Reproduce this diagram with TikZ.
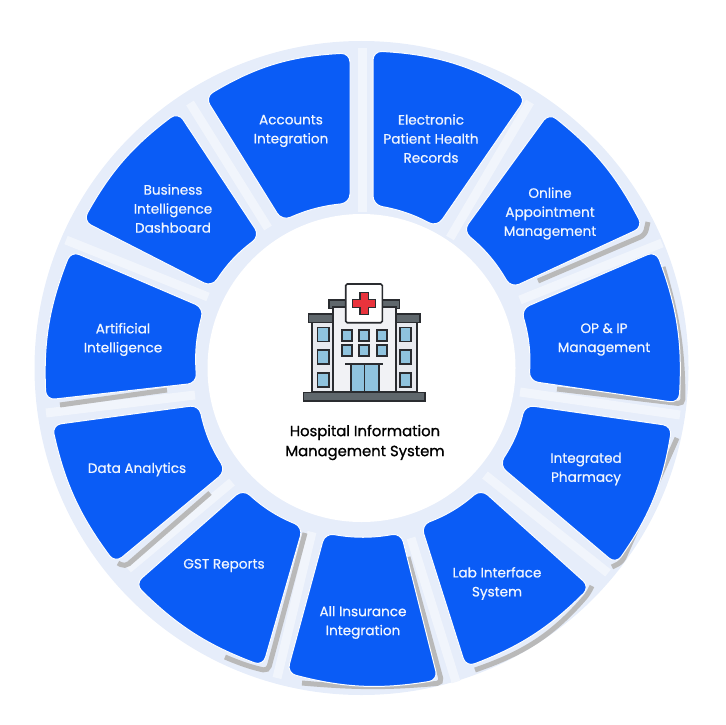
\documentclass[tikz,border=0pt]{standalone}
\usepackage{fontspec}
\setmainfont{Poppins}
\newfontfamily\labelfont{Poppins}[FakeBold=0.6]
\newfontfamily\titlefont{Poppins}[FakeBold=1]
\usepackage{tikz}
\usetikzlibrary{positioning}
\definecolor{ringblue}{HTML}{E6EDFA}
\definecolor{gapwhite}{HTML}{F1F5FC}
\definecolor{tileblue}{HTML}{0A5CF6}
\definecolor{shadowgrey}{HTML}{B9B9B9}
\definecolor{iconline}{HTML}{2A2C30}
\definecolor{iconroof}{HTML}{5F676C}
\definecolor{iconwall}{HTML}{E8EAEF}
\definecolor{iconglass}{HTML}{8FC3DE}
\definecolor{iconred}{HTML}{E8333C}

\begin{document}
\begin{tikzpicture}[x=1pt, y=-1pt]
      \tikzstyle{ring} = [fill=ringblue, draw=none]
      \tikzstyle{gap} = [gapwhite, line width=9pt]
      \tikzstyle{shade} = [shadowgrey, line width=5pt, rounded corners=5pt]
      \tikzstyle{tile} = [fill=tileblue, draw=white!90!ringblue, line width=1pt, rounded corners=9pt]
      \tikzstyle{label} = [text=white!94!tileblue, align=center, font=\labelfont\fontsize{13.6}{19}\selectfont]
      \tikzstyle{title} = [text=black, align=center, font=\titlefont\fontsize{14.8}{20}\selectfont]
      \tikzstyle{wall} = [fill=iconwall, draw=iconline, line width=1.6pt]
      \tikzstyle{roof} = [fill=iconroof, draw=iconline, line width=1.3pt]
      \tikzstyle{window} = [fill=iconglass, draw=iconline, line width=1.6pt]

      \useasboundingbox (0,0) rectangle (725,725);

      % ring
      \fill [ring] (361.5,368) circle (327);
      \draw [gap] (362,212) -- (362,48);
      \draw [gap] (450,238) -- (530,102);
      \draw [gap] (520,300) -- (662,243);
      \draw [gap] (520,392) -- (680,415);
      \draw [gap] (485,475) -- (608,573);
      \draw [gap] (411,538) -- (456,682);
      \draw [gap] (312,532) -- (277,678);
      \draw [gap] (232,482) -- (128,569);
      \draw [gap] (195,395) -- (46,413);
      \draw [gap] (208,297) -- (66,240);
      \draw [gap] (268,228) -- (190,103);
      \fill [white] (361.5,368) circle (154);

      % grey edges under the tiles
      \draw [shade] (538,281) -- (645,235) -- (648,222);
      \draw [shade] (557,389) -- (683,404) to[bend right=8] (663,267);
      \draw [shade] (677,438) -- (622,562) -- (612,567);
      \draw [shade] (592,586) -- (588,594) to[bend left=15] (475,670);
      \draw [shade] (408,557) -- (442,683) to[bend left=5] (302,683);
      \draw [shade] (305,533) -- (268,671) to[bend left=5] (225,657);
      \draw [shade] (210,493) -- (125,567) -- (118,563);
      \draw [shade] (167,390) -- (60,405);

      % tiles
      \draw [tile] (205,97) to[bend left=14] (350,53) -- (350,203) to[bend right=9] (282,221) -- cycle;
      \draw [tile] (373,51) to[bend left=14] (526,98) -- (437,227) to[bend right=9] (373,205) -- cycle;
      \draw [tile] (549,113) to[bend left=12] (643,227) -- (511,288) to[bend right=10] (463,231) -- cycle;
      \draw [tile] (656,251) to[bend left=12] (679,403) -- (529,381) to[bend right=10] (521,309) -- cycle;
      \draw [tile] (672,426) to[bend left=13] (616,564) -- (499,465) to[bend right=10] (525,405) -- cycle;
      \draw [tile] (590,587) to[bend left=12] (466,667) -- (421,525) to[bend right=10] (481,489) -- cycle;
      \draw [tile] (438,680) to[bend left=12] (287,673) -- (325,533) to[bend right=10] (401,533) -- cycle;
      \draw [tile] (263,666) to[bend left=12] (135,584) -- (243,489) to[bend right=10] (303,527) -- cycle;
      \draw [tile] (115,563) to[bend left=12] (52,425) -- (199,405) to[bend right=10] (226,471) -- cycle;
      \draw [tile] (46,400) to[bend left=12] (71,251) -- (204,308) to[bend right=10] (197,383) -- cycle;
      \draw [tile] (83,221) to[bend left=12] (178,112) -- (260,236) to[bend right=10] (212,287) -- cycle;

      % labels
      \node (accounts) [label] at (291,131) {Accounts\\Integration};
      \node (records) [label] at (431,138.5) {Electronic\\Patient Health\\Records};
      \node (appointment) [label] at (550,213.5) {Online\\Appointment\\Management};
      \node (opip) [label] at (604,339.5) {OP \& IP\\Management};
      \node (pharmacy) [label] at (586,469) {Integrated\\Pharmacy};
      \node (lab) [label] at (497,583.5) {Lab Interface\\System};
      \node (insurance) [label] at (363,622.5) {All Insurance\\Integration};
      \node (gst) [label] at (224,565.5) {GST Reports};
      \node (analytics) [label] at (137,469.5) {Data Analytics};
      \node (ai) [label] at (123,339.5) {Artificial\\Intelligence};
      \node (dashboard) [label] at (173,208.5) {Business\\Intelligence\\Dashboard};
      \node (hims) [title] at (365,442.5) {Hospital Information\\Management System};

      % hospital
      \draw [wall] (311.7,321) rectangle (333,392);
      \draw [wall] (395,321) rectangle (416.7,392);
      \draw [roof] (308.3,314) rectangle (333,322.3);
      \draw [roof] (395,314) rectangle (420,322.3);
      \draw [roof] (329,300) rectangle (399.3,308.3);
      \draw [wall, fill=iconwall!60!white] (332.7,307) rectangle (395.7,392);
      \draw [wall, fill=white, rounded corners=1.5pt] (345.7,284) rectangle (382.3,322.7);
      \draw [fill=iconred, draw=iconline, line width=1.1pt] (360,292.3) -- (368.3,292.3) -- (368.3,299.3) -- (375.7,299.3) -- (375.7,307.3) -- (368.3,307.3) -- (368.3,314.3) -- (360,314.3) -- (360,307.3) -- (352.7,307.3) -- (352.7,299.3) -- (360,299.3) -- cycle;
      \draw [window] (317.3,327.3) rectangle (328.7,341.3);
      \draw [window] (317.3,350) rectangle (328.7,364);
      \draw [window] (317.3,372.7) rectangle (328.7,386.7);
      \draw [window] (400,327.3) rectangle (410.7,341.3);
      \draw [window] (400,350) rectangle (410.7,364);
      \draw [window] (400,372.7) rectangle (410.7,386.7);
      \draw [window] (342,330) rectangle (351.7,340.7);
      \draw [window] (359,330) rectangle (369,340.7);
      \draw [window] (376.7,330) rectangle (386.7,340.7);
      \draw [window] (342,345) rectangle (351.7,356);
      \draw [window] (359,345) rectangle (369,356);
      \draw [window] (376.7,345) rectangle (386.7,356);
      \draw [window] (350.7,364) rectangle (364.5,392);
      \draw [window] (364.5,364) rectangle (378.7,392);
      \draw [iconline, line width=1.6pt] (345,364) -- (382.7,364);
      \draw [roof] (303.3,392.3) rectangle (425,401);
    \end{tikzpicture}
\end{document}
